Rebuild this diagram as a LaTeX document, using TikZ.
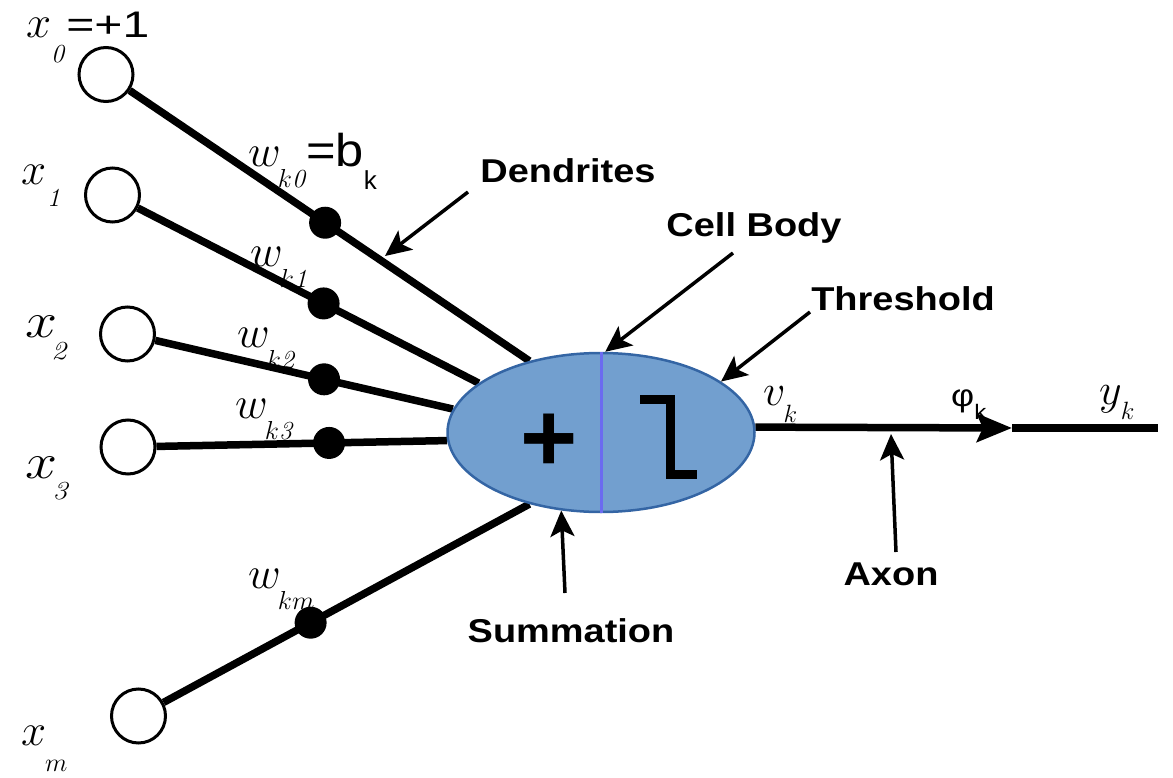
\documentclass[tikz,border=0pt]{standalone}
\usepackage{fix-cm}
\usepackage{fontspec}
\newfontfamily\lsans{Liberation Sans}
\usetikzlibrary{shapes.geometric,arrows.meta}
\pgfdeclarelayer{bg}
\pgfsetlayers{bg,main}
\definecolor{cellfill}{HTML}{729FCF}
\definecolor{cellborder}{HTML}{3465A4}
\definecolor{divcol}{HTML}{6B6BF0}
\newcommand{\wide}[1]{\scalebox{1.15}[1]{#1}}
\newcommand{\subf}{\fontsize{26}{26}\selectfont}
% base, kern, drop, subscript
\newcommand{\msub}[4]{$#1$\kern#2\raisebox{#3}{\subf #4}}
\begin{document}
\begin{tikzpicture}[x=1pt,y=-1pt,
  inp/.style={circle,draw=black,line width=3pt,fill=white,minimum size=54pt,inner sep=0pt},
  wire/.style={line width=7.5pt},
  dot/.style={circle,fill=black,minimum size=32pt,inner sep=0pt},
  cellbody/.style={ellipse,draw=cellborder,line width=2.5pt,fill=cellfill,minimum width=307pt,minimum height=159pt,inner sep=0pt},
  divider/.style={draw=divcol,line width=3pt},
  callout/.style={line width=3.5pt,-{Stealth[length=26pt,width=24pt,inset=6pt]}},
  tag/.style={font=\lsans\bfseries\fontsize{33}{36}\selectfont,anchor=base,inner sep=0pt},
  mlab/.style={font=\fontsize{45}{50}\selectfont,anchor=base west,inner sep=0pt},
  blab/.style={font=\fontsize{50}{56}\selectfont,anchor=base west,inner sep=0pt},
  slab/.style={font=\fontsize{44}{48}\selectfont,anchor=base west,inner sep=0pt}]
\useasboundingbox (0,0) rectangle (1173,778);
% input neurons
\node[inp] (i0) at (106,74.5) {};
\node[inp] (i1) at (112.5,195) {};
\node[inp] (i2) at (127.5,334) {};
\node[inp] (i3) at (128,447) {};
\node[inp] (im) at (138.5,716) {};
% cell body
\node[cellbody] (cell) at (601,432.5) {};
\draw[divider] (cell.north) -- (cell.south);
\draw[line width=9pt] (640,399) -- (670,399) -- (670,474) -- (697,474);
\node[font=\lsans\bfseries\fontsize{98}{100}\selectfont,anchor=base,inner sep=0pt] (plus) at (549,471) {+};
% wires
\begin{pgfonlayer}{bg}
\draw[wire] (i0) -- (cell.135.6) node[dot,pos=0.489] (d0) {};
\draw[wire] (i1) -- (cell.158.3) node[dot,pos=0.545] (d1) {};
\draw[wire] (i2) -- (cell.171.4) node[dot,pos=0.567] (d2) {};
\draw[wire] (i3) -- (cell.183.6) node[dot,pos=0.594] (d3) {};
\draw[wire] (im) -- (cell.225.2) node[dot,pos=0.402] (dm) {};
\coordinate (ax) at (1012,428);
\coordinate (yend) at (1158,428);
\draw[wire,-{Stealth[length=35pt,width=28pt,inset=6pt]}] (cell.2) -- (ax);
\draw[wire] (ax) -- (yend);
\end{pgfonlayer}
% input labels
\node[mlab] (lx0) at (26,38) {$x$\raisebox{-25pt}{\subf\textit{0}}\kern1pt{\lsans\fontsize{37}{40}\selectfont\scalebox{1.3}[1]{=+1}}};
\node[mlab] (lx1) at (21,185) {\msub{x}{1pt}{-22pt}{\textit{1}}};
\node[blab] (lx2) at (25,337) {\wide{\msub{x}{-5pt}{-22pt}{\textit{2}}}};
\node[blab] (lx3) at (25,478) {\wide{\msub{x}{-4pt}{-21pt}{\textit{3}}}};
\node[mlab] (lxm) at (21,745) {\msub{x}{-1pt}{-26pt}{$m$}};
% weight labels
\node[mlab] (lw0) at (248,167) {\msub{w}{-3pt}{-21pt}{$k$\textit{0}}{\lsans\fontsize{46}{48}\selectfont\scalebox{1.1}[1]{=b}\raisebox{-23pt}{\fontsize{26}{26}\selectfont k}}};
\node[mlab] (lw1) at (250,266) {\msub{w}{-3pt}{-21pt}{$k$\textit{1}}};
\node[mlab] (lw2) at (237,347) {\msub{w}{-3pt}{-21pt}{$k$\textit{2}}};
\node[mlab] (lw3) at (235,418) {\msub{w}{-3pt}{-21pt}{$k$\textit{3}}};
\node[mlab] (lwm) at (248,588) {\msub{w}{-3pt}{-21pt}{$km$}};
% output labels
\node[slab] (lv) at (763,405) {$v$\kern-2pt\raisebox{-17pt}{\fontsize{25}{25}\selectfont$k$}};
\node[anchor=base west,inner sep=0pt,font=\lsans\fontsize{31}{34}\selectfont] (lphi) at (951,406) {\wide{φ\raisebox{-13pt}{\fontsize{21}{21}\selectfont k}}};
\node[slab] (ly) at (1099,404) {$y$\kern-1pt\raisebox{-15pt}{\fontsize{25}{25}\selectfont$k$}};
% tags
\node[tag] (tDen) at (568,183) {\wide{Dendrites}};
\node[tag] (tCell) at (754,237) {\wide{Cell Body}};
\node[tag] (tThr) at (903,310) {\wide{Threshold}};
\node[tag] (tSum) at (571,642) {\wide{Summation}};
\node[tag] (tAx) at (891,585) {\wide{Axon}};
% callouts
\coordinate (cDen) at (468,192);
\coordinate (pDen) at (385,256);
\coordinate (cCell) at (733,253);
\coordinate (cThr) at (810,312);
\coordinate (cSum) at (565,593);
\coordinate (cAx) at (896,552);
\coordinate (pAx) at (891,434);
\draw[callout] (cDen) -- (pDen);
\draw[callout] (cCell) -- (cell.87);
\draw[callout] (cThr) -- (cell.23.5);
\draw[callout] (cSum) -- (cell.243.6);
\draw[callout] (cAx) -- (pAx);
\end{tikzpicture}
\end{document}
